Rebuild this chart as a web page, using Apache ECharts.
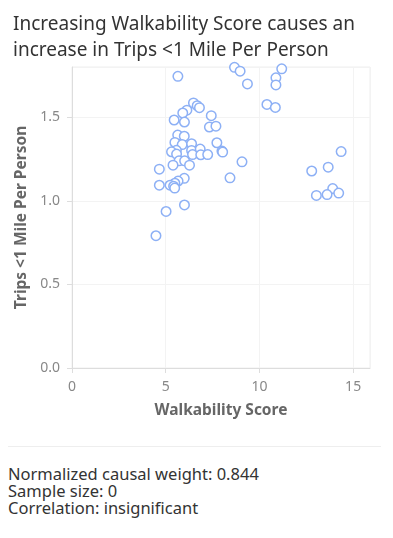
<!DOCTYPE html>
<html>
<head>
<meta charset="utf-8">
<script src="https://cdn.jsdelivr.net/npm/echarts@6/dist/echarts.min.js"></script>
<style>
  html, body { margin: 0; padding: 0; background: #fff; }
  body { width: 393px; height: 538px; overflow: hidden; font-family: "Noto Sans", "Open Sans", sans-serif; }
  #chart { width: 393px; height: 440px; }
  #sep { margin: 6px 12px 0 8px; border-top: 1px solid #eee; height: 0; }
  #info { margin: 18px 0 0 8px; font-size: 16.5px; line-height: 17px; color: #333; }
</style>
</head>
<body>
<div id="chart"></div>
<div id="sep"></div>
<div id="info">
  <div>Normalized causal weight: 0.844</div>
  <div>Sample size: 0</div>
  <div>Correlation: insignificant</div>
</div>
<script>
const titleLines = ["Increasing Walkability Score causes an", "increase in Trips <1 Mile Per Person"];
const xName = "Walkability Score";
const yName = "Trips <1 Mile Per Person";
const walkability = [5.65, 8.67, 8.97, 9.36, 11.19, 10.88, 10.88, 10.40, 10.85, 6.48,
  6.68, 6.80, 6.13, 5.91, 5.45, 6.00, 7.43, 7.33, 7.68, 5.64,
  5.99, 5.49, 5.88, 6.38, 7.73, 5.57, 5.31, 5.58, 6.38, 6.84,
  6.43, 6.87, 7.24, 8.00, 8.04, 5.71, 6.01, 5.39, 6.27, 4.66,
  9.07, 5.99, 5.66, 5.49, 5.23, 5.42, 5.48, 4.66, 8.43, 6.00,
  5.02, 4.48, 14.36, 13.67, 12.79, 13.91, 14.23, 13.61, 13.04];
const trips = [1.744, 1.798, 1.775, 1.699, 1.789, 1.735, 1.693, 1.576, 1.558, 1.585,
  1.569, 1.557, 1.542, 1.525, 1.483, 1.471, 1.509, 1.441, 1.446, 1.393,
  1.386, 1.349, 1.336, 1.341, 1.347, 1.302, 1.293, 1.279, 1.301, 1.309,
  1.276, 1.275, 1.276, 1.297, 1.291, 1.239, 1.239, 1.213, 1.213, 1.189,
  1.233, 1.134, 1.118, 1.105, 1.093, 1.087, 1.076, 1.093, 1.137, 0.975,
  0.936, 0.791, 1.294, 1.201, 1.178, 1.073, 1.046, 1.037, 1.032];

const points = walkability.map((x, i) => [x, trips[i]]);
const chart = echarts.init(document.getElementById('chart'));
chart.setOption({
  animation: false,
  textStyle: { fontFamily: '"Noto Sans", "Open Sans", sans-serif' },
  title: {
    text: titleLines.join('\n'),
    left: 8, top: 7,
    textStyle: { fontSize: 19, fontWeight: 'normal', color: '#333', lineHeight: 26 }
  },
  grid: { left: 72, right: 23, top: 67, bottom: 72, show: true, borderColor: '#eee', borderWidth: 1 },
  xAxis: {
    type: 'value', min: 0, max: 15.9, interval: 5,
    name: xName, nameLocation: 'middle', nameGap: 35,
    nameTextStyle: { fontSize: 15.5, fontWeight: 'bold', color: '#666' },
    axisLine: { show: true, lineStyle: { color: '#ddd' } },
    axisTick: { show: true, lineStyle: { color: '#ddd' } },
    axisLabel: { color: '#888', fontSize: 14, margin: 12, showMaxLabel: false,
      formatter: v => (v % 5 === 0 ? String(v) : '') },
    splitLine: { show: true, lineStyle: { color: '#f3f3f3' } }
  },
  yAxis: {
    type: 'value', min: 0, max: 1.8, interval: 0.5,
    name: yName, nameLocation: 'middle', nameGap: 40,
    nameTextStyle: { fontSize: 15.5, fontWeight: 'bold', color: '#666' },
    axisLine: { show: true, lineStyle: { color: '#ddd' } },
    axisTick: { show: true, lineStyle: { color: '#ddd' } },
    axisLabel: { color: '#888', fontSize: 14, margin: 12, showMaxLabel: false,
      formatter: v => v.toFixed(1) },
    splitLine: { show: true, lineStyle: { color: '#f3f3f3' } }
  },
  series: [{
    type: 'scatter',
    data: points,
    symbol: 'circle',
    symbolSize: 9.5,
    itemStyle: { color: '#fff', borderColor: '#8db0f5', borderWidth: 1.5, opacity: 1 }
  }]
});
</script>
</body>
</html>
